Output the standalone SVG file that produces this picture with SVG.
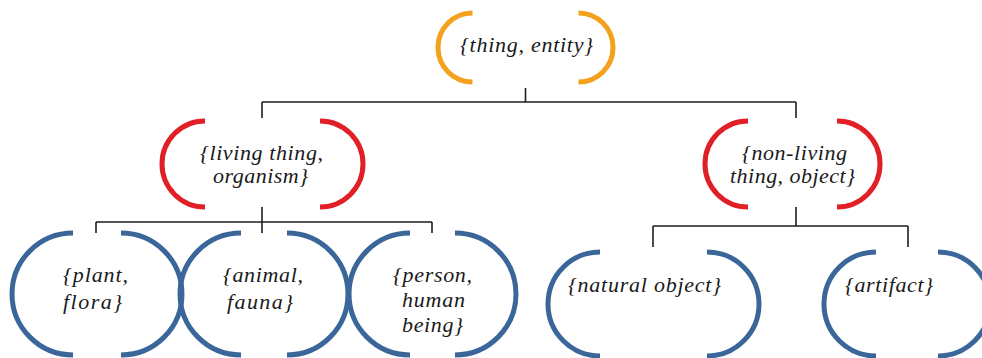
<svg xmlns="http://www.w3.org/2000/svg" width="982" height="358" viewBox="0 0 982 358">
<style>
.arc{fill:none;stroke-width:5;stroke-linecap:butt}
.o{stroke:#f4a11d}
.r{stroke:#e11f26}
.b{stroke:#3b6699}
.c{fill:none;stroke:#1e1e1e;stroke-width:1.6}
text{font-family:"Liberation Serif","DejaVu Serif",serif;font-style:italic;font-size:22px;fill:#1a1a1a}
</style>
<rect width="982" height="358" fill="#ffffff"/>
<g id="connectors">
<path class="c" d="M525.5 88V102M262 102H796M262 102V118M796 102V118"/>
<path class="c" d="M262 207V233M96 222H432M96 222V233M432 222V233"/>
<path class="c" d="M796 207V226M653 226H908M653 226V247M908 226V247"/>
</g>
<g id="thing">
<path class="arc o" d="M472.5 13A34.5 34.5 0 0 0 472.5 82"/>
<path class="arc o" d="M578.5 13A34.5 34.5 0 0 1 578.5 82"/>
<text x="460" y="52" textLength="133">{thing, entity}</text>
</g>
<g id="living">
<path class="arc r" d="M205 121A43 43 0 0 0 205 207"/>
<path class="arc r" d="M320 121A43 43 0 0 1 320 207"/>
<text x="200" y="160" textLength="123">{living thing,</text>
<text x="213" y="183" textLength="95">organism}</text>
</g>
<g id="nonliving">
<path class="arc r" d="M748 121A43 43 0 0 0 748 207"/>
<path class="arc r" d="M837 121A43 43 0 0 1 837 207"/>
<text x="742" y="160" textLength="105">{non-living</text>
<text x="730" y="183" textLength="125">thing, object}</text>
</g>
<g id="plant">
<path class="arc b" d="M73 233A61 61 0 0 0 73 355"/>
<path class="arc b" d="M121 233A61 61 0 0 1 121 355"/>
<text x="63" y="282" textLength="65">{plant,</text>
<text x="63" y="309" textLength="59">flora}</text>
</g>
<g id="animal">
<path class="arc b" d="M241 233A61 61 0 0 0 241 355"/>
<path class="arc b" d="M287 233A61 61 0 0 1 287 355"/>
<text x="223" y="282" textLength="80">{animal,</text>
<text x="227" y="309" textLength="66">fauna}</text>
</g>
<g id="person">
<path class="arc b" d="M410 233A61 61 0 0 0 410 355"/>
<path class="arc b" d="M455 233A61 61 0 0 1 455 355"/>
<text x="393" y="282" textLength="79">{person,</text>
<text x="402" y="307" textLength="63">human</text>
<text x="402" y="332" textLength="61">being}</text>
</g>
<g id="natural">
<path class="arc b" d="M600 252A52 52 0 0 0 600 356"/>
<path class="arc b" d="M707 252A52 52 0 0 1 707 356"/>
<text x="568" y="292" textLength="153">{natural object}</text>
</g>
<g id="artifact">
<path class="arc b" d="M876 252A52 52 0 0 0 876 356"/>
<path class="arc b" d="M938 252A52 52 0 0 1 938 356"/>
<text x="845" y="292" textLength="88">{artifact}</text>
</g>
</svg>
